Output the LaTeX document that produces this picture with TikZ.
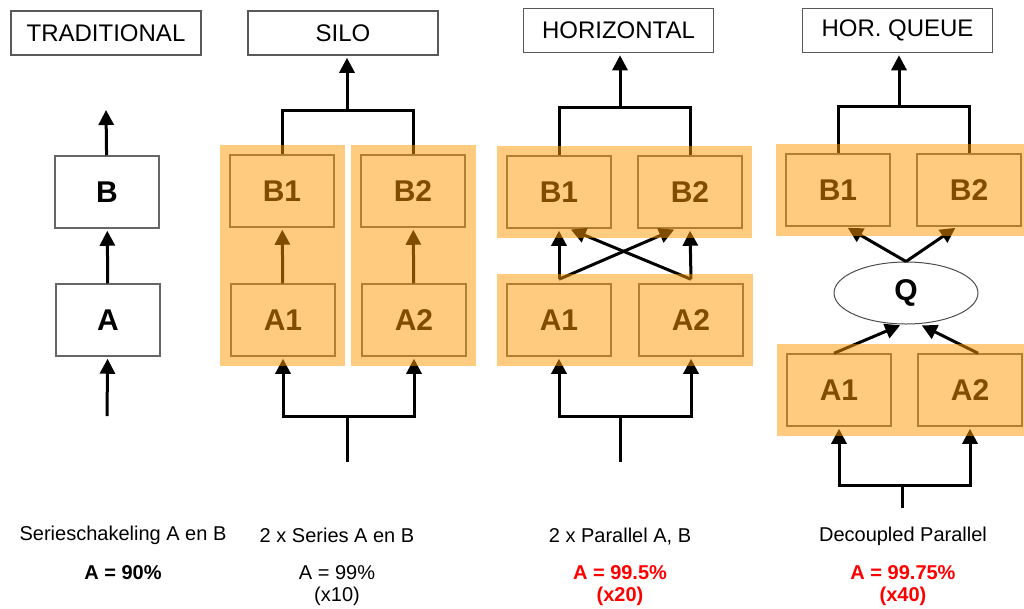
\documentclass[tikz,border=0pt]{standalone}
\usepackage{fontspec}
\setmainfont{Liberation Sans}
\usetikzlibrary{arrows.meta,shapes.geometric,fit}
\definecolor{panelorange}{RGB}{255,153,0}
\definecolor{valuered}{RGB}{255,0,0}
\begin{document}
\begin{tikzpicture}[x=1pt,y=-1pt]
\tikzset{
  titlebox/.style={draw=black!65,line width=1.5pt,minimum width=190pt,minimum height=44pt,inner sep=0pt,font=\fontsize{24}{28}\selectfont},
  unitbox/.style={draw=black!60,line width=1.5pt,minimum width=104pt,minimum height=72pt,inner sep=0pt,font=\fontsize{30}{34}\selectfont\bfseries},
  queuebox/.style={draw=black!70,line width=1pt,shape=ellipse,minimum width=144pt,minimum height=62pt,inner sep=0pt,font=\fontsize{30}{34}\selectfont\bfseries},
  linkline/.style={line width=3pt},
  linkarrow/.style={line width=3pt,shorten >=2pt,-{Triangle[length=15pt,width=15pt]}},
  panelbg/.style={fill=panelorange,fill opacity=0.5,inner sep=9pt},
  captiontext/.style={font=\fontsize{20}{22}\selectfont},
  valuetext/.style={align=center,font=\fontsize{20}{22}\selectfont}
}
\useasboundingbox (0,0) rectangle (1024,608);

\node[titlebox] (tTrad) at (106,33) {TRADITIONAL};
\node[titlebox] (tSilo) at (343,33) {SILO};
\node[titlebox] (tHor) at (618.5,30.5) {HORIZONTAL};
\node[titlebox] (tQueue) at (897.5,30.5) {HOR. QUEUE};

% traditional
\node[unitbox] (tB) at (107,192) {B};
\node[unitbox] (tA) at (108,320) {A};
\coordinate (tOut) at (106,108);
\coordinate (tIn) at (107,416);
\draw[linkarrow] (tB) -- (tOut);
\draw[linkarrow] (tA) -- (tB);
\draw[linkarrow] (tIn) -- (tA);

% silo
\node[unitbox] (sB1) at (282,191) {B1};
\node[unitbox] (sB2) at (413,191) {B2};
\node[unitbox] (sA1) at (283,320) {A1};
\node[unitbox] (sA2) at (414,320) {A2};
\coordinate (sTop) at (347,110);
\coordinate (sFork) at (347,416);
\coordinate (sIn) at (347,462);
\draw[linkline] (sB1.north) |- (sTop) -| (sB2.north);
\draw[linkarrow] (sTop) -- (sTop |- tSilo.south);
\draw[linkarrow] (sA1) -- (sB1);
\draw[linkarrow] (sA2) -- (sB2);
\draw[linkline] (sIn) -- (sFork);
\draw[linkarrow] (sFork) -| (sA1);
\draw[linkarrow] (sFork) -| (sA2);

% horizontal
\node[unitbox] (hB1) at (559,192) {B1};
\node[unitbox] (hB2) at (690,192) {B2};
\node[unitbox] (hA1) at (559,320) {A1};
\node[unitbox] (hA2) at (691,320) {A2};
\coordinate (hTop) at (620,107);
\coordinate (hFork) at (620,416);
\coordinate (hIn) at (620,462);
\draw[linkline] (hB1.north) |- (hTop) -| (hB2.north);
\draw[linkarrow] (hTop) -- (hTop |- tHor.south);
\draw[linkarrow] ([yshift=4pt]hA1.north) -- (hB1.south);
\draw[linkarrow] ([yshift=4pt]hA1.north) -- ([xshift=-14pt]hB2.south);
\draw[linkarrow] ([yshift=4pt]hA2.north) -- (hB2.south);
\draw[linkarrow] ([yshift=4pt]hA2.north) -- ([xshift=10pt]hB1.south);
\draw[linkline] (hIn) -- (hFork);
\draw[linkarrow] (hFork) -| (hA1);
\draw[linkarrow] (hFork) -| (hA2);

% horizontal with queue
\node[unitbox] (qB1) at (838,190) {B1};
\node[unitbox] (qB2) at (969,190) {B2};
\node[queuebox] (qQ) at (906,293) {Q};
\node[unitbox] (qA1) at (839,390) {A1};
\node[unitbox] (qA2) at (970,390) {A2};
\coordinate (qTop) at (899,106);
\coordinate (qFork) at (902,485);
\coordinate (qIn) at (902,508);
\draw[linkline] (qB1.north) |- (qTop) -| (qB2.north);
\draw[linkarrow] (qTop) -- (qTop |- tQueue.south);
\draw[linkarrow] (qQ.north) -- ([xshift=8pt]qB1.south);
\draw[linkarrow] (qQ.north) -- ([xshift=-12pt]qB2.south);
\draw[linkarrow] ([xshift=-5pt]qA1.north) -- ([xshift=-4pt]qQ.south);
\draw[linkarrow] ([xshift=8pt]qA2.north) -- ([xshift=14pt]qQ.south);
\draw[linkline] (qIn) -- (qFork);
\draw[linkarrow] (qFork) -| (qA1);
\draw[linkarrow] (qFork) -| (qA2);

% orange panels on top
\node[panelbg,fit=(sB1)(sA1)] (sPanel1) {};
\node[panelbg,fit=(sB2)(sA2)] (sPanel2) {};
\node[panelbg,fit=(hB1)(hB2)] (hPanelB) {};
\node[panelbg,fit=(hA1)(hA2)] (hPanelA) {};
\node[panelbg,fit=(qB1)(qB2)] (qPanelB) {};
\node[panelbg,fit=(qA1)(qA2)] (qPanelA) {};

% captions
\node[captiontext] (cTrad) at (123,535) {Serieschakeling A en B};
\node[valuetext,font=\fontsize{20}{22}\selectfont\bfseries] (vTrad) at (123,573) {A = 90\%};
\node[captiontext] (cSilo) at (337,535) {2 x Series A en B};
\node[valuetext] (vSilo) at (337,585.5) {A = 99\%\\(x10)};
\node[captiontext] (cHor) at (620,537) {2 x Parallel A, B};
\node[valuetext,text=valuered,font=\fontsize{20}{22}\selectfont\bfseries] (vHor) at (620,585.5) {A = 99.5\%\\(x20)};
\node[captiontext] (cQueue) at (903,536) {Decoupled Parallel};
\node[valuetext,text=valuered,font=\fontsize{20}{22}\selectfont\bfseries] (vQueue) at (903,585.5) {A = 99.75\%\\(x40)};
\end{tikzpicture}
\end{document}
